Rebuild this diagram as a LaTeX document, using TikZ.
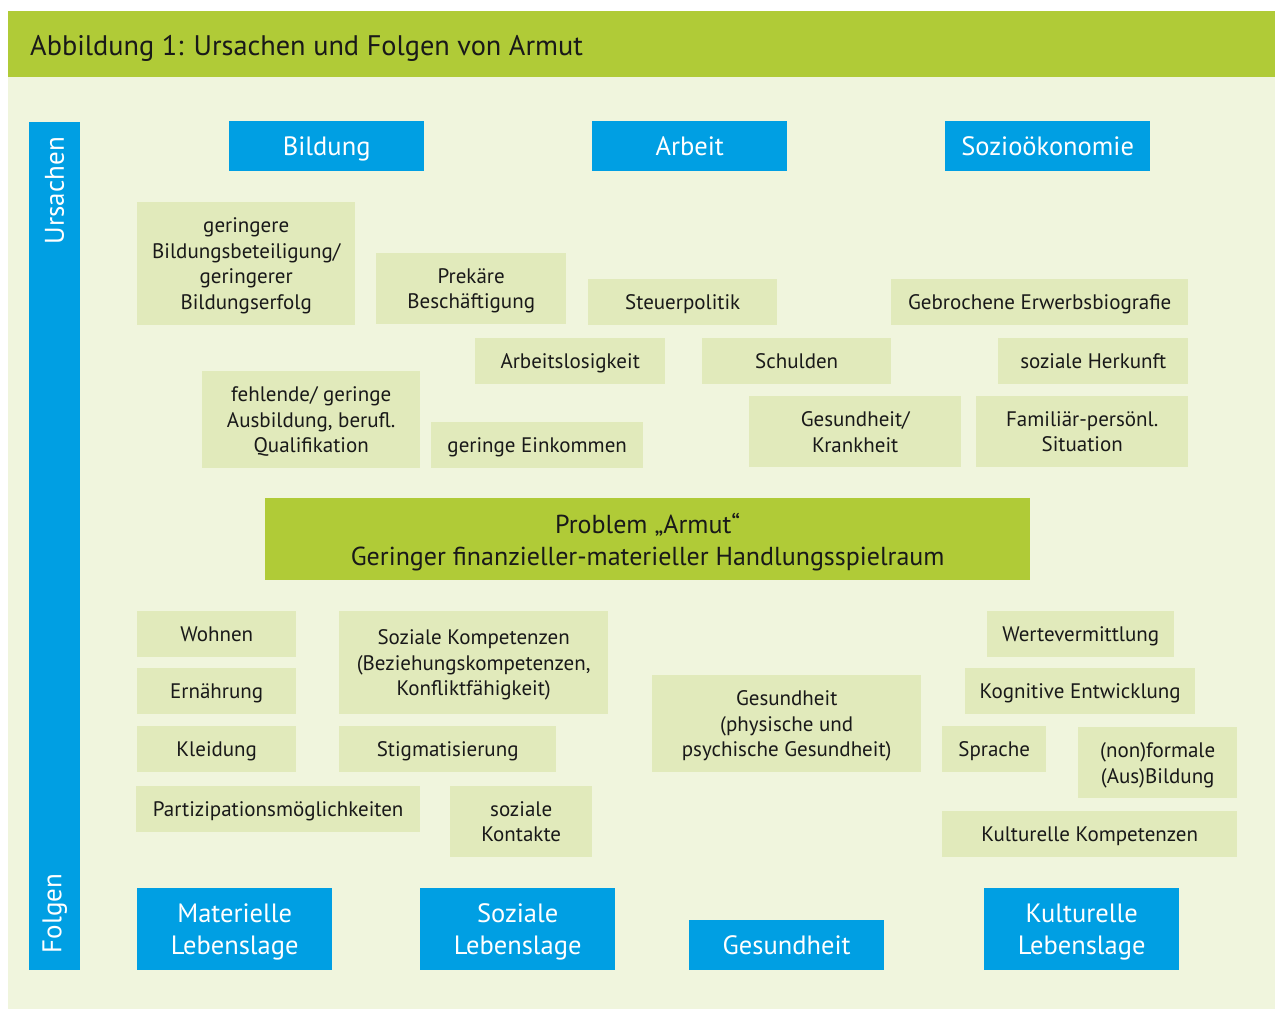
\documentclass[tikz,border=0pt]{standalone}
\usepackage{fontspec}
\setmainfont{PT Sans}
\usepackage{xcolor}
\usepackage{tikz}
\usetikzlibrary{positioning}
\definecolor{kopfgruen}{RGB}{176,203,55}
\definecolor{grund}{RGB}{240,245,221}
\definecolor{feldgruen}{RGB}{225,234,187}
\definecolor{blau}{RGB}{0,159,227}
\newcommand{\txt}[2]{\fontsize{#1}{#2}\selectfont}

\begin{document}
\begin{tikzpicture}[x=1pt,y=-1pt,
    feld/.style={fill=feldgruen,align=center,inner sep=0,text depth=0pt,anchor=north west,text=black!90,font=\txt{21}{25.7}},
    kopf/.style={fill=blau,align=center,inner sep=0,text depth=0pt,anchor=north west,text=white,font=\txt{26.5}{32}}]
    \useasboundingbox[fill=white] (0,0) rectangle (1275,1010);
    \fill[grund] (8,77) rectangle (1275,1009);
    \node(titel)[fill=kopfgruen,minimum width=1267,minimum height=66,inner sep=0,anchor=north west] at (8,11) {};
    \node(titeltext)[anchor=base west,inner sep=0,font=\txt{28.3}{32},text=black!90] at (30,55) {Abbildung 1: Ursachen und Folgen von Armut};

    \node(leiste)[fill=blau,minimum width=51,minimum height=848,inner sep=0,anchor=north west] at (29,122) {};
    \node(ursachen)[rotate=90,anchor=east,inner sep=0,text=white,font=\txt{27}{30}] at ([yshift=-15]leiste.north) {Ursachen};
    \node(folgen)[rotate=90,anchor=west,inner sep=0,text=white,font=\txt{27}{30}] at ([yshift=17]leiste.south) {Folgen};

    % Ursachen
    \node(bildung)[kopf,minimum width=195,minimum height=50] at (229,121) {Bildung};
    \node(arbeit)[kopf,minimum width=195,minimum height=50] at (592,121) {Arbeit};
    \node(sozio)[kopf,minimum width=205,minimum height=50] at (945,121) {Sozioökonomie};

    \node(u1)[feld,minimum width=218,minimum height=123] at (137,202) {geringere\\Bildungsbeteiligung/\\geringerer\\Bildungserfolg};
    \node(u2)[feld,minimum width=190,minimum height=71] at (376,253) {Prekäre\\Beschäftigung};
    \node(u3)[feld,minimum width=189,minimum height=46] at (588,279) {Steuerpolitik};
    \node(u4)[feld,minimum width=297,minimum height=46] at (891,279) {Gebrochene Erwerbsbiografie};
    \node(u5)[feld,minimum width=190,minimum height=46] at (475,338) {Arbeitslosigkeit};
    \node(u6)[feld,minimum width=189,minimum height=46] at (702,338) {Schulden};
    \node(u7)[feld,minimum width=190,minimum height=46] at (998,338) {soziale Herkunft};
    \node(u8)[feld,minimum width=218,minimum height=97] at (202,371) {fehlende/ geringe\\Ausbildung, berufl.\\Qualifikation};
    \node(u9)[feld,minimum width=212,minimum height=46] at (431,422) {geringe Einkommen};
    \node(u10)[feld,minimum width=212,minimum height=71] at (749,396) {Gesundheit/\\Krankheit};
    \node(u11)[feld,minimum width=212,minimum height=71] at (976,396) {Familiär-persönl.\\Situation};

    \node(problem)[feld,fill=kopfgruen,minimum width=765,minimum height=82,font=\txt{26}{32}] at (265,498) {Problem „Armut“\\Geringer finanzieller-materieller Handlungsspielraum};

    % Folgen
    \node(f1)[feld,minimum width=159,minimum height=46] at (137,611) {Wohnen};
    \node(f2)[feld,minimum width=159,minimum height=46] at (137,668) {Ernährung};
    \node(f3)[feld,minimum width=159,minimum height=46] at (137,726) {Kleidung};
    \node(f4)[feld,minimum width=284,minimum height=46] at (136,786) {Partizipationsmöglichkeiten};
    \node(f5)[feld,minimum width=269,minimum height=103] at (339,611) {Soziale Kompetenzen\\(Beziehungskompetenzen,\\Konfliktfähigkeit)};
    \node(f6)[feld,minimum width=217,minimum height=46] at (339,726) {Stigmatisierung};
    \node(f7)[feld,minimum width=142,minimum height=71] at (450,786) {soziale\\Kontakte};
    \node(f8)[feld,minimum width=269,minimum height=97] at (652,675) {Gesundheit\\(physische und\\psychische Gesundheit)};
    \node(f9)[feld,minimum width=187,minimum height=46] at (987,611) {Wertevermittlung};
    \node(f10)[feld,minimum width=230,minimum height=46] at (965,668) {Kognitive Entwicklung};
    \node(f11)[feld,minimum width=104,minimum height=46] at (942,726) {Sprache};
    \node(f12)[feld,minimum width=159,minimum height=71] at (1078,727) {(non)formale\\(Aus)Bildung};
    \node(f13)[feld,minimum width=295,minimum height=46] at (942,811) {Kulturelle Kompetenzen};

    \node(materiell)[kopf,minimum width=195,minimum height=82] at (137,888) {Materielle\\Lebenslage};
    \node(sozial)[kopf,minimum width=195,minimum height=82] at (420,888) {Soziale\\Lebenslage};
    \node(gesund)[kopf,minimum width=195,minimum height=50] at (689,920) {Gesundheit};
    \node(kulturell)[kopf,minimum width=195,minimum height=82] at (984,888) {Kulturelle\\Lebenslage};
\end{tikzpicture}
\end{document}
